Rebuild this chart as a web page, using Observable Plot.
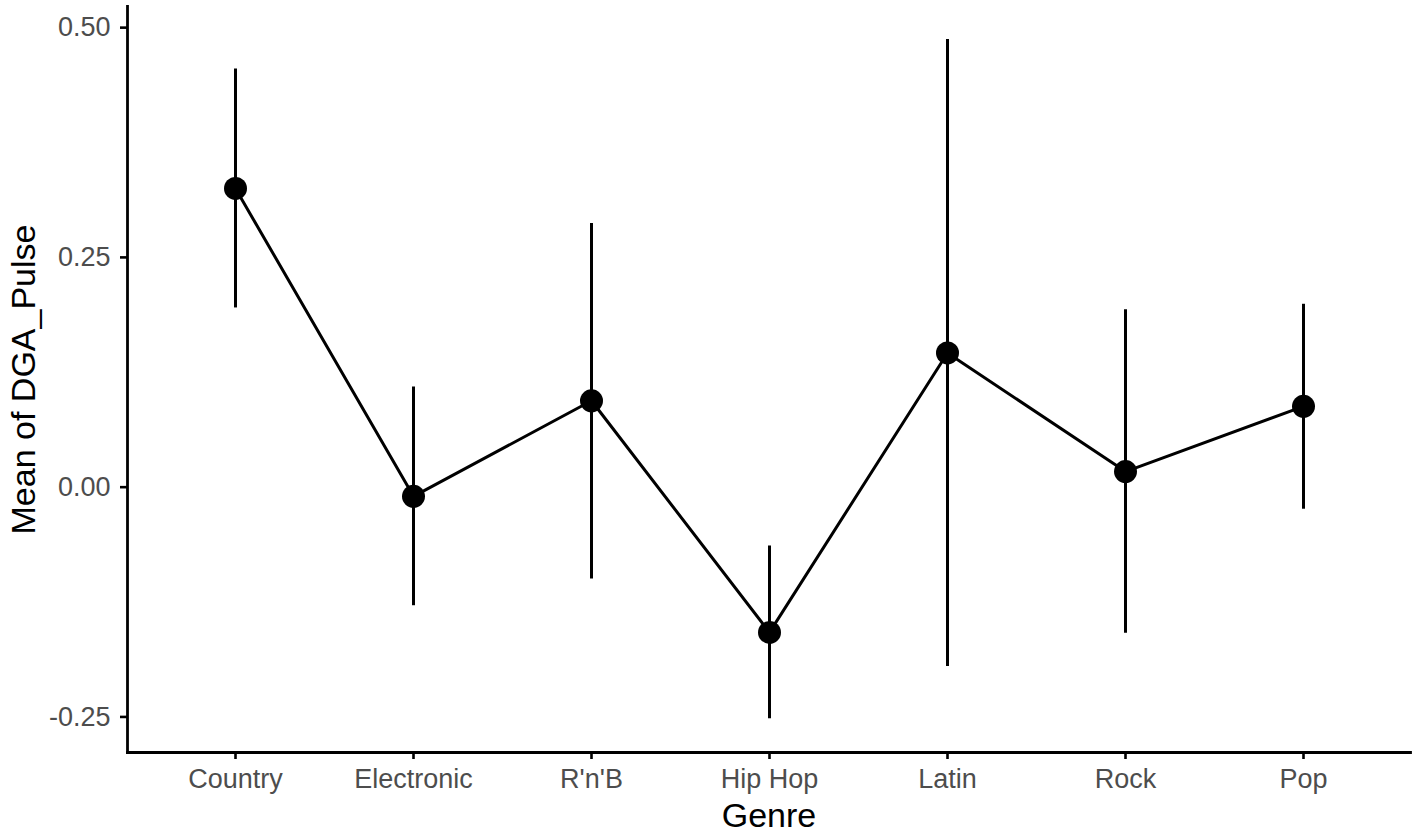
<!DOCTYPE html>
<html><head><meta charset="utf-8">
<script src="https://cdn.jsdelivr.net/npm/d3@7"></script>
<script src="https://cdn.jsdelivr.net/npm/@observablehq/plot@0.6"></script>
<style>html,body{margin:0;padding:0;background:#fff}</style>
</head><body><div id="chart"></div>
<script>
const genres = ["Country", "Electronic", "R'n'B", "Hip Hop", "Latin", "Rock", "Pop"];
const means  = [0.325, -0.010, 0.094, -0.158, 0.146, 0.017, 0.088];
const lowers = [0.195, -0.129, -0.100, -0.252, -0.195, -0.159, -0.024];
const uppers = [0.455, 0.109, 0.287, -0.064, 0.487, 0.193, 0.199];
const yTicks = [-0.25, 0, 0.25, 0.5];
const xTitle = "Genre";
const yTitle = "Mean of DGA_Pulse";

const data = genres.map((g, i) => ({genre: g, mean: means[i], lo: lowers[i], hi: uppers[i]}));

const chart = Plot.plot({
  width: 1417, height: 835,
  marginLeft: 127, marginRight: 7, marginTop: 6, marginBottom: 83,
  style: {fontFamily: "'Liberation Sans', Arial, sans-serif", background: "#fff"},
  x: {type: "point", domain: genres, padding: 0.6},
  y: {domain: [-0.2887, 0.523]},
  marks: [
    Plot.axisY({ticks: yTicks, tickFormat: d => d.toFixed(2), tickSize: 7, tickPadding: 10,
      fontSize: 27, fill: "#4d4d4d", stroke: "#000", strokeWidth: 2.6, label: null}),
    Plot.axisX({tickSize: 7, tickPadding: 9, fontSize: 27, fill: "#4d4d4d", stroke: "#000",
      strokeWidth: 2.6, label: null}),
    Plot.frame({anchor: "left", stroke: "#000", strokeWidth: 2.8}),
    Plot.frame({anchor: "bottom", stroke: "#000", strokeWidth: 2.8}),
    Plot.ruleX(data, {x: "genre", y1: "lo", y2: "hi", stroke: "#000", strokeWidth: 3}),
    Plot.line(data, {x: "genre", y: "mean", stroke: "#000", strokeWidth: 3}),
    Plot.dot(data, {x: "genre", y: "mean", r: 11.5, fill: "#000", stroke: "none"}),
    Plot.text([xTitle], {frameAnchor: "bottom", textAnchor: "middle", lineAnchor: "bottom", dy: 74, fontSize: 34, fill: "#000"}),
    Plot.text([yTitle], {frameAnchor: "left", textAnchor: "middle", lineAnchor: "bottom", rotate: -90, dx: -93, fontSize: 34, fill: "#000"})
  ]
});
document.getElementById("chart").appendChild(chart);
</script>
</body></html>
